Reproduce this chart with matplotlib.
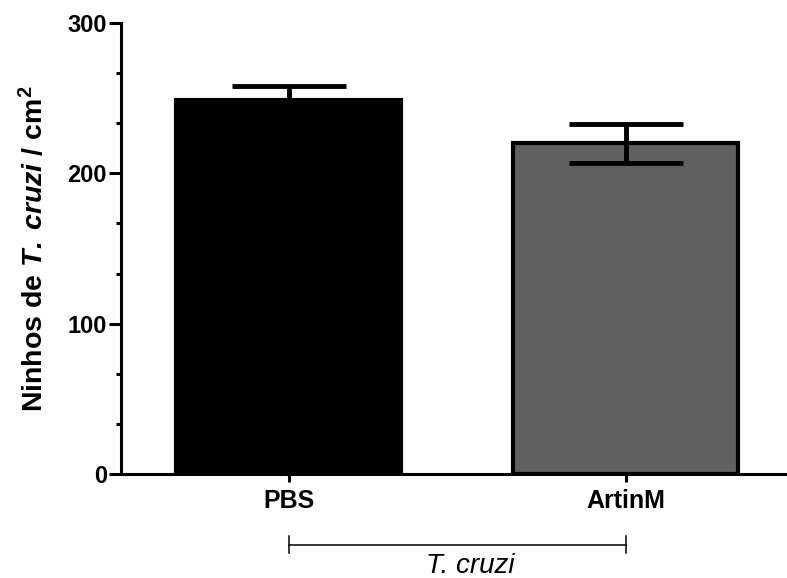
import matplotlib
matplotlib.use("Agg")
import matplotlib.pyplot as plt
import matplotlib.transforms as mtransforms
from matplotlib.ticker import AutoMinorLocator

plt.rcParams['font.family'] = ['Liberation Sans', 'DejaVu Sans']
plt.rcParams['mathtext.fontset'] = 'custom'
plt.rcParams['mathtext.rm'] = 'Liberation Sans'
plt.rcParams['mathtext.bf'] = 'Liberation Sans:bold'
plt.rcParams['mathtext.it'] = 'Liberation Sans:italic'
plt.rcParams['mathtext.bfit'] = 'Liberation Sans:bold:italic'

# Data
groups = ["PBS", "ArtinM"]
means = [249, 220]
errors = [9, 13]
bar_colors = ["#000000", "#606060"]
group_label = "T. cruzi"
y_ticks = [0, 100, 200, 300]

fig = plt.figure(figsize=(7.87, 5.78), dpi=100)
ax = fig.add_axes([121 / 787, 1 - 474 / 578, 1 - 121 / 787, (474 - 23) / 578])

x = list(range(len(groups)))
ax.bar(x, means, width=2 / 3, color=bar_colors, edgecolor="black",
       linewidth=3, zorder=2)
ax.errorbar(x, means, yerr=errors, fmt="none", ecolor="black",
            elinewidth=3.5, capsize=41, capthick=3.5, zorder=3)

ax.set_xlim(-0.497, 1.479)
ax.set_ylim(0, 300)

for side in ("top", "right"):
    ax.spines[side].set_visible(False)
for side in ("left", "bottom"):
    ax.spines[side].set_linewidth(2.2)

ax.set_yticks(y_ticks)
ax.yaxis.set_minor_locator(AutoMinorLocator(3))
ax.set_xticks(x)
ax.set_xticklabels(groups, fontsize=18, fontweight="bold")
ax.tick_params(axis="y", which="major", length=8.6, width=2.2, pad=1.5,
               labelsize=17)
ax.tick_params(axis="y", which="minor", length=3.6, width=2.2)
for lab in ax.get_yticklabels():
    lab.set_fontweight("bold")
ax.tick_params(axis="x", which="major", length=5.8, width=2.2, pad=5)

ax.set_ylabel(r"Ninhos de $\mathbfit{T.\;cruzi}$ / cm$^{\mathbf{2}}$",
              fontsize=20.5, fontweight="bold", labelpad=13)

# Group bracket beneath the category labels
trans = mtransforms.blended_transform_factory(ax.transData, ax.transAxes)
yb = -0.157
ax.plot([x[0], x[-1]], [yb, yb], color="black", lw=1.1, transform=trans,
        clip_on=False)
for xi in (x[0], x[-1]):
    ax.plot([xi, xi], [yb + 0.019, yb - 0.019], color="black", lw=1.1,
            transform=trans, clip_on=False)
ax.text(0.54, -0.2195, group_label, transform=trans, ha="center",
        va="baseline", fontsize=20, style="italic")

fig.savefig("out.png", dpi=100)
